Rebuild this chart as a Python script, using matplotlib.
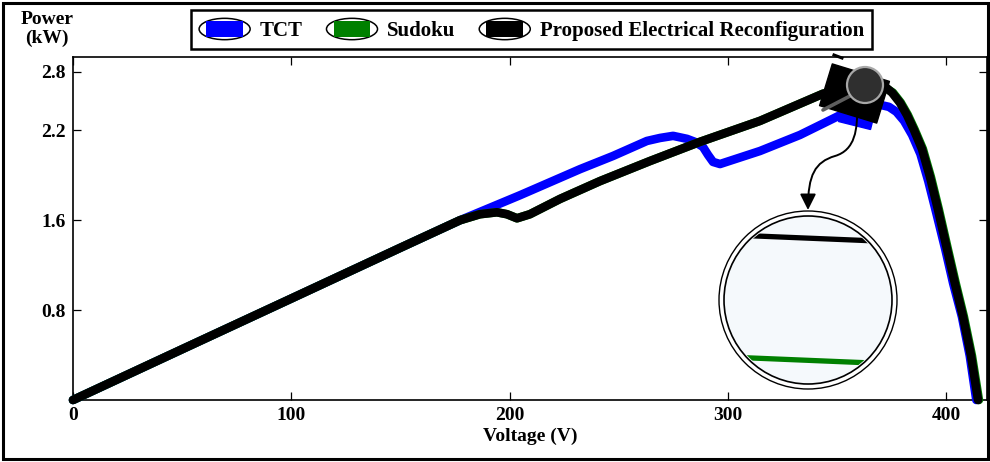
import numpy as np
import matplotlib
matplotlib.use('Agg')
import matplotlib.pyplot as plt
import matplotlib.transforms as mtransforms
from matplotlib.lines import Line2D
from matplotlib.patches import Ellipse, Rectangle, Circle, FancyArrowPatch
from matplotlib.legend_handler import HandlerBase
from matplotlib.markers import MarkerStyle
from matplotlib.path import Path

plt.rcParams['font.family'] = ['Liberation Serif', 'DejaVu Serif']
plt.rcParams['font.weight'] = 'bold'
plt.rcParams['axes.labelweight'] = 'bold'

# P-V curves (voltage in V, power in kW)
tct_v = [0, 50, 100, 150, 177.3, 204.8, 232.3, 247.4, 262.9, 268.9, 274.9, 281.3,
         284.9, 288.6, 290.9, 293.2, 296.4, 314.7, 333.0, 352.7, 360.5, 369.7,
         373.8, 377.2, 380.7, 384.4, 388.2, 391.8, 395.5, 399.6, 403.2, 407.2,
         410.8, 413.8]
tct_p = [0, 0.452, 0.903, 1.355, 1.600, 1.767, 1.941, 2.029, 2.129, 2.149, 2.163, 2.143,
         2.123, 2.089, 2.036, 1.989, 1.975, 2.062, 2.169, 2.370, 2.441, 2.462,
         2.441, 2.390, 2.297, 2.169, 2.042, 1.861, 1.647, 1.340, 1.037, 0.742,
         0.393, 0]

sud_v = [0, 50, 100, 150, 177.3, 186.4, 194.2, 198.8, 203.4, 209.3, 223.1, 241.4,
         264.3, 287.2, 314.7, 343.6, 353.6, 362.8, 372.0, 375.6, 379.2, 382.4,
         385.6, 389.3, 393.0, 396.6, 400.8, 404.4, 408.1, 411.8, 415.0]
sud_p = [0, 0.452, 0.903, 1.355, 1.600, 1.640, 1.653, 1.640, 1.613, 1.640, 1.742, 1.861,
         1.995, 2.123, 2.297, 2.576, 2.622, 2.661, 2.640, 2.587, 2.484, 2.359,
         2.205, 2.076, 1.888, 1.674, 1.340, 1.037, 0.742, 0.393, 0]

pro_v = [0, 50, 100, 150, 177.3, 186.4, 194.2, 198.8, 203.4, 209.3, 223.1, 241.4,
         264.3, 287.2, 314.7, 343.6, 353.6, 362.8, 372.0, 375.2, 378.8, 382.0,
         385.2, 388.9, 392.6, 396.2, 400.4, 404.0, 407.7, 411.4, 414.6]
pro_p = [0, 0.452, 0.903, 1.355, 1.600, 1.640, 1.653, 1.640, 1.613, 1.640, 1.742, 1.861,
         1.995, 2.123, 2.297, 2.576, 2.627, 2.669, 2.648, 2.587, 2.484, 2.359,
         2.205, 2.076, 1.888, 1.674, 1.340, 1.037, 0.742, 0.393, 0]

# maximum power point markers: TCT, Sudoku, Proposed
mpp_v = [359.6, 357.9, 357.9]
mpp_p = [2.421, 2.584, 2.584]

labels = ['TCT', 'Sudoku', 'Proposed Electrical Reconfiguration']
colors = ['#0000ff', '#008000', '#000000']

x_ticks = [0, 100, 200, 300, 400]
y_ticks = [0.8, 1.6, 2.2, 2.8]

# power axis is stretched piecewise between its tick values
kw_breaks = [-10, 0, 0.8, 1.6, 2.2, 2.8, 10]
ax_breaks = [-10, 0, 0.8, 1.6, 2.4, 2.92, 9.16]


def fwd(p):
    return np.interp(p, kw_breaks, ax_breaks)


def inv(s):
    return np.interp(s, ax_breaks, kw_breaks)


class EllipseBox(HandlerBase):
    '''legend key: coloured box inside an outlined ellipse'''
    def create_artists(self, legend, orig_handle, xdescent, ydescent,
                       width, height, fontsize, trans):
        cx = width / 2 - xdescent
        cy = height / 2 - ydescent
        ell = Ellipse((cx, cy), width, height, facecolor='white',
                      edgecolor='black', lw=1.1, transform=trans)
        box = Rectangle((cx - width * 0.36, cy - height * 0.38), width * 0.72,
                        height * 0.76, facecolor=orig_handle.get_color(),
                        edgecolor='none', transform=trans)
        return [ell, box]


W, H = 990, 462
fig = plt.figure(figsize=(W / 100, H / 100), dpi=100)
ax = fig.add_axes([73 / W, 62 / H, 914 / W, 343 / H])
ax.set_yscale('function', functions=(fwd, inv))

lines = []
for v, p, c, z in zip([tct_v, sud_v, pro_v], [tct_p, sud_p, pro_p], colors, [3, 4, 5]):
    ln, = ax.plot(v, p, color=c, lw=6.2, solid_joinstyle='round',
                  solid_capstyle='round', clip_on=False, zorder=z)
    lines.append(ln)

# MPP markers
box_path = Path([(-1, -0.73), (1, -0.73), (1, 0.73), (-1, 0.73), (-1, -0.73)],
                [Path.MOVETO, Path.LINETO, Path.LINETO, Path.LINETO, Path.CLOSEPOLY])
ax.plot(mpp_v[0], mpp_p[0], ls='none', color=colors[0], ms=24, zorder=6,
        marker=MarkerStyle('s', transform=mtransforms.Affine2D().rotate_deg(-14)))
ax.plot(mpp_v[1], mpp_p[1], ls='none', color=colors[1], ms=40, zorder=6,
        marker=MarkerStyle(box_path, transform=mtransforms.Affine2D().rotate_deg(-17)))
ax.plot(mpp_v[2], mpp_p[2], ls='none', color=colors[2], ms=43, zorder=7,
        marker=MarkerStyle(box_path, transform=mtransforms.Affine2D().rotate_deg(-17)))

ax.set_xlim(0, 418.7)
ax.set_ylim(0, 2.953)
ax.set_xticks(x_ticks)
ax.set_xticklabels([str(t) for t in x_ticks])
ax.set_yticks(y_ticks)
ax.set_yticklabels([str(t) for t in y_ticks])
ax.minorticks_off()
ax.tick_params(direction='in', length=6, width=0.9, top=True, right=True,
               labelsize=14, pad=5)
for s in ax.spines.values():
    s.set_linewidth(1.2)

ax.set_xlabel('Voltage (V)', fontsize=14, labelpad=3)
ax.set_ylabel('Power\n(kW)', fontsize=14, rotation=0, ha='center', va='center',
              linespacing=1.15)
ax.yaxis.set_label_coords(-0.0285, 1.082)

# magnified view of the peak region
ax_in = fig.add_axes([(808 - 84) / W, (H - 300 - 84) / H, 168 / W, 168 / H])
ax_in.set_axis_off()
ax_in.add_patch(Circle((0.5, 0.5), 89 / 168, transform=ax_in.transAxes,
                       facecolor='white', edgecolor='black', lw=1.0, clip_on=False, zorder=0))
ax_in.add_patch(Circle((0.5, 0.5), 0.5, transform=ax_in.transAxes,
                       facecolor='#f5f9fc', edgecolor='black', lw=1.2, clip_on=False, zorder=1))
lens = Circle((0.5, 0.5), 0.49, transform=ax_in.transAxes)
for v, p, c in zip([sud_v, pro_v], [sud_p, pro_p], colors[1:]):
    ln, = ax_in.plot(v, p, color=c, lw=3.8, zorder=2)
    ln.set_clip_path(lens)
ax_in.set_xlim(365.0, 365.2)
ax_in.set_ylim(2.6542, 2.6652)

# pixel-based transform for the callout graphics
pix = mtransforms.Affine2D().scale(1 / W, -1 / H).translate(0, 1) + fig.transFigure

fig.add_artist(Line2D([850, 823], [96, 110], transform=pix, color='#5e5e5e', lw=2.6,
                      solid_capstyle='round', zorder=8))
fig.add_artist(Circle((865, 85), 18, transform=pix, facecolor='#2f2f2f',
                      edgecolor='#a8a8a8', lw=1.6, zorder=9))
arrow_path = Path([(857, 104), (858, 130), (855, 150), (835, 156),
                   (815, 162), (808, 175), (808, 210)],
                  [Path.MOVETO, Path.CURVE4, Path.CURVE4, Path.CURVE4,
                   Path.CURVE4, Path.CURVE4, Path.CURVE4])
fig.add_artist(FancyArrowPatch(path=arrow_path, transform=pix, color='black', lw=1.4,
                               arrowstyle='-|>,head_length=0.6,head_width=0.3',
                               mutation_scale=16, zorder=8))
fig.add_artist(Line2D([834, 842], [55, 58], transform=pix, color='black', lw=2.2, zorder=8))

# figure frame
fig.add_artist(Rectangle((3, 3), 985, 456, transform=pix, fill=False,
                         edgecolor='black', lw=2.2, zorder=10))

leg = fig.legend(lines, labels, loc='upper center', ncol=3,
                 bbox_to_anchor=(531.5 / W, 1 - 10 / H), borderaxespad=0,
                 handler_map={Line2D: EllipseBox()},
                 fancybox=False, edgecolor='black', framealpha=1,
                 handlelength=2.45, handleheight=1.2, handletextpad=0.45,
                 columnspacing=1.15, borderpad=0.4,
                 prop={'weight': 'bold', 'size': 15})
leg.get_frame().set_linewidth(1.8)

fig.savefig('out.png', dpi=100)
